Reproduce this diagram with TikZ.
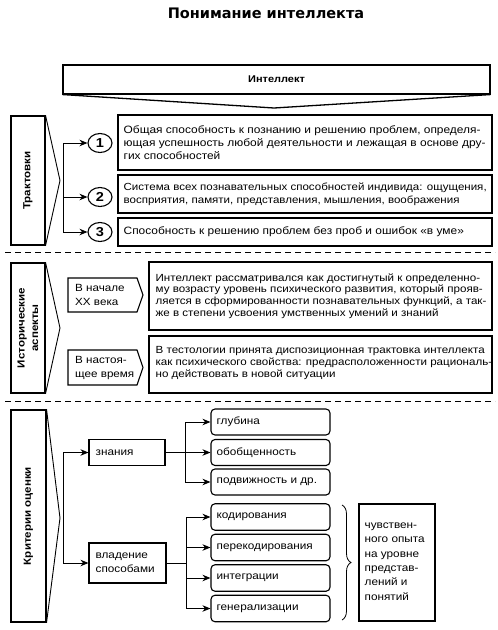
\documentclass[tikz,border=0pt]{standalone}
\usepackage{fontspec}
\setmainfont{Liberation Sans}[FakeStretch=1.12]
\newfontfamily\titlefont{DejaVu Sans}
\usetikzlibrary{arrows.meta,calc,shapes.geometric,decorations.pathreplacing}
\begin{document}
\begin{tikzpicture}[x=1pt,y=-1pt,
  box/.style={draw, line width=1.1pt, inner sep=0pt},
  rbox/.style={box, rounded corners=4pt},
  conn/.style={line width=0.9pt},
  arr/.style={conn, -{Stealth[length=8pt,width=6.5pt]}},
  num/.style={draw, ellipse, line width=1.1pt, minimum width=24pt, minimum height=19pt, inner sep=0pt, font=\bfseries\fontsize{13}{13}\selectfont},
  fA/.style={font=\fontsize{10.65}{13}\selectfont, align=left, inner sep=0pt},
  fB/.style={font=\fontsize{10.35}{11.7}\selectfont, align=left, inner sep=0pt},
  fC/.style={font=\fontsize{10.5}{14.2}\selectfont, align=left, inner sep=0pt},
  lab/.style={font=\bfseries\fontsize{10.3}{13.5}\selectfont, align=center, inner sep=0pt, rotate=90},
  sepline/.style={line width=1pt, dash pattern=on 6pt off 4pt},
]
\useasboundingbox (0,0) rectangle (498,630);

% title
\node[font=\titlefont\bfseries\fontsize{14.5}{16}\selectfont] (title) at (266,13) {Понимание интеллекта};

% Intellekt
\node[box, minimum width=427pt, minimum height=29pt, font=\bfseries\fontsize{9.8}{12}\selectfont] (int) at (276.5,79.5) {Интеллект};
\coordinate (vtip) at (274,108);
\draw[line width=1.3pt] (int.south west) -- (vtip) -- (int.south east);

% ---------- Section 1 ----------
\node[box, minimum width=34pt, minimum height=129pt] (trakt) at (28,180.5) {};
\node[lab] (traktL) at (trakt.center) {Трактовки};
\coordinate (ttip) at (60,180.5);
\draw[conn] (trakt.north east) -- (ttip) -- (trakt.south east);

\node[num] (c1) at (100,143) {1};
\node[num] (c2) at (100,197) {2};
\node[num] (c3) at (100,232) {3};
\coordinate (tj) at (63,143);
\draw[arr] (tj) -- (c1);
\draw[arr] (tj) |- (c2);
\draw[arr] (tj) |- (c3);

\node[box, minimum width=374pt, minimum height=55pt] (t1) at (305,142.5) {};
\node[fA, anchor=west] (t1x) at ($(t1.west)+(6,0)$) {Общая способность к познанию и решению проблем, определя-\\ющая успешность любой деятельности и лежащая в основе дру-\\гих способностей};
\node[box, minimum width=374pt, minimum height=38pt] (t2) at (305,194) {};
\node[fA, anchor=west, font=\fontsize{10.3}{12.5}\selectfont] (t2x) at ($(t2.west)+(6,0)$) {Система всех познавательных способностей индивида: ощущения,\\восприятия, памяти, представления, мышления, воображения};
\node[box, minimum width=374pt, minimum height=28pt] (t3) at (305,232) {};
\node[fA, anchor=west] (t3x) at ($(t3.west)+(6,0)$) {Способность к решению проблем без проб и ошибок «в уме»};

\draw[sepline] (5,252) -- (495,252);

% ---------- Section 2 ----------
\node[box, minimum width=34pt, minimum height=130pt] (hist) at (28,328) {};
\node[lab] (histL) at (hist.center) {Исторические\\аспекты};
\coordinate (htip) at (60,328);
\draw[conn] (hist.north east) -- (htip) -- (hist.south east);

\draw[box] (68,278) -- (137,278) -- (143,295) -- (137,312) -- (68,312) -- cycle;
\node[fB, anchor=west, font=\fontsize{10.4}{14}\selectfont] (p1) at (75,295) {В начале\\XX века};
\draw[box] (68,350) -- (137,350) -- (143,367.5) -- (137,385) -- (68,385) -- cycle;
\node[fB, anchor=west, font=\fontsize{10.4}{14}\selectfont] (p2) at (75,367.5) {В настоя-\\щее время};

\node[box, minimum width=343pt, minimum height=68pt] (h1) at (320.5,296) {};
\node[fB, anchor=west] (h1x) at ($(h1.west)+(7,0)$) {Интеллект рассматривался как достигнутый к определенно-\\му возрасту уровень психического развития, который прояв-\\ляется в сформированности познавательных функций, а так-\\же в степени усвоения умственных умений и знаний};
\node[box, minimum width=343pt, minimum height=57pt] (h2) at (320.5,364.5) {};
\node[fB, anchor=west] (h2x) at ($(h2.west)+(7,-1.5)$) {В тестологии принята диспозиционная трактовка интеллекта\\как психического свойства: предрасположенности рациональ-\\но действовать в новой ситуации};

\draw[sepline] (5,401) -- (495,401);

% ---------- Section 3 ----------
\node[box, minimum width=35pt, minimum height=212pt] (krit) at (28.5,516) {};
\node[lab] (kritL) at (krit.center) {Критерии оценки};
\coordinate (ktip) at (60,518);
\draw[conn] (krit.north east) -- (ktip) -- (krit.south east);

\node[box, minimum width=76pt, minimum height=26pt] (zn) at (127,452.5) {};
\node[fC, anchor=west] (znx) at ($(zn.west)+(7,0)$) {знания};
\node[box, minimum width=77pt, minimum height=40pt] (vl) at (127.5,563) {};
\node[fC, anchor=west] (vlx) at ($(vl.west)+(7,0)$) {владение\\способами};
\coordinate (kj) at (63,452.5);
\draw[arr] (kj) -- (zn);
\draw[arr] (kj) |- (vl);

\node[rbox, minimum width=119pt, minimum height=26pt] (r1) at (270.5,422) {};
\node[fC, anchor=west] (r1x) at ($(r1.west)+(6,0)$) {глубина};
\node[rbox, minimum width=119pt, minimum height=26pt] (r2) at (270.5,452.5) {};
\node[fC, anchor=west] (r2x) at ($(r2.west)+(6,0)$) {обобщенность};
\node[rbox, minimum width=119pt, minimum height=26pt] (r3) at (270.5,482) {};
\node[fC, anchor=west] (r3x) at ($(r3.west)+(6,0)$) {подвижность и др.};
\coordinate (zb) at (185,452.5);
\draw[conn] (zn) -- (zb);
\draw[arr] (zb) |- (r1);
\draw[arr] (zb) -- (r2);
\draw[arr] (zb) |- (r3);

\node[rbox, minimum width=119pt, minimum height=26.5pt] (r4) at (270.5,517) {};
\node[fC, anchor=west] (r4x) at ($(r4.west)+(6,0)$) {кодирования};
\node[rbox, minimum width=119pt, minimum height=26.5pt] (r5) at (270.5,547.5) {};
\node[fC, anchor=west] (r5x) at ($(r5.west)+(6,0)$) {перекодирования};
\node[rbox, minimum width=119pt, minimum height=26.5pt] (r6) at (270.5,578) {};
\node[fC, anchor=west] (r6x) at ($(r6.west)+(6,0)$) {интеграции};
\node[rbox, minimum width=119pt, minimum height=26.5pt] (r7) at (270.5,608.5) {};
\node[fC, anchor=west] (r7x) at ($(r7.west)+(6,0)$) {генерализации};
\coordinate (vb) at (186,563);
\draw[conn] (vl) -- (vb);
\draw[arr] (vb) |- (r4);
\draw[arr] (vb) |- (r5);
\draw[arr] (vb) |- (r6);
\draw[arr] (vb) |- (r7);

\coordinate (br1) at (342,505);
\coordinate (br2) at (342,620);
\draw[line width=0.8pt, decorate, decoration={brace, amplitude=9pt}] (br1) -- (br2);

\node[box, minimum width=76pt, minimum height=117pt] (fin) at (397,562.5) {};
\node[fC, anchor=west, font=\fontsize{10.5}{14.3}\selectfont] (finx) at ($(fin.west)+(6,-1)$) {чувствен-\\ного опыта\\на уровне\\представ-\\лений и\\понятий};
\end{tikzpicture}
\end{document}
